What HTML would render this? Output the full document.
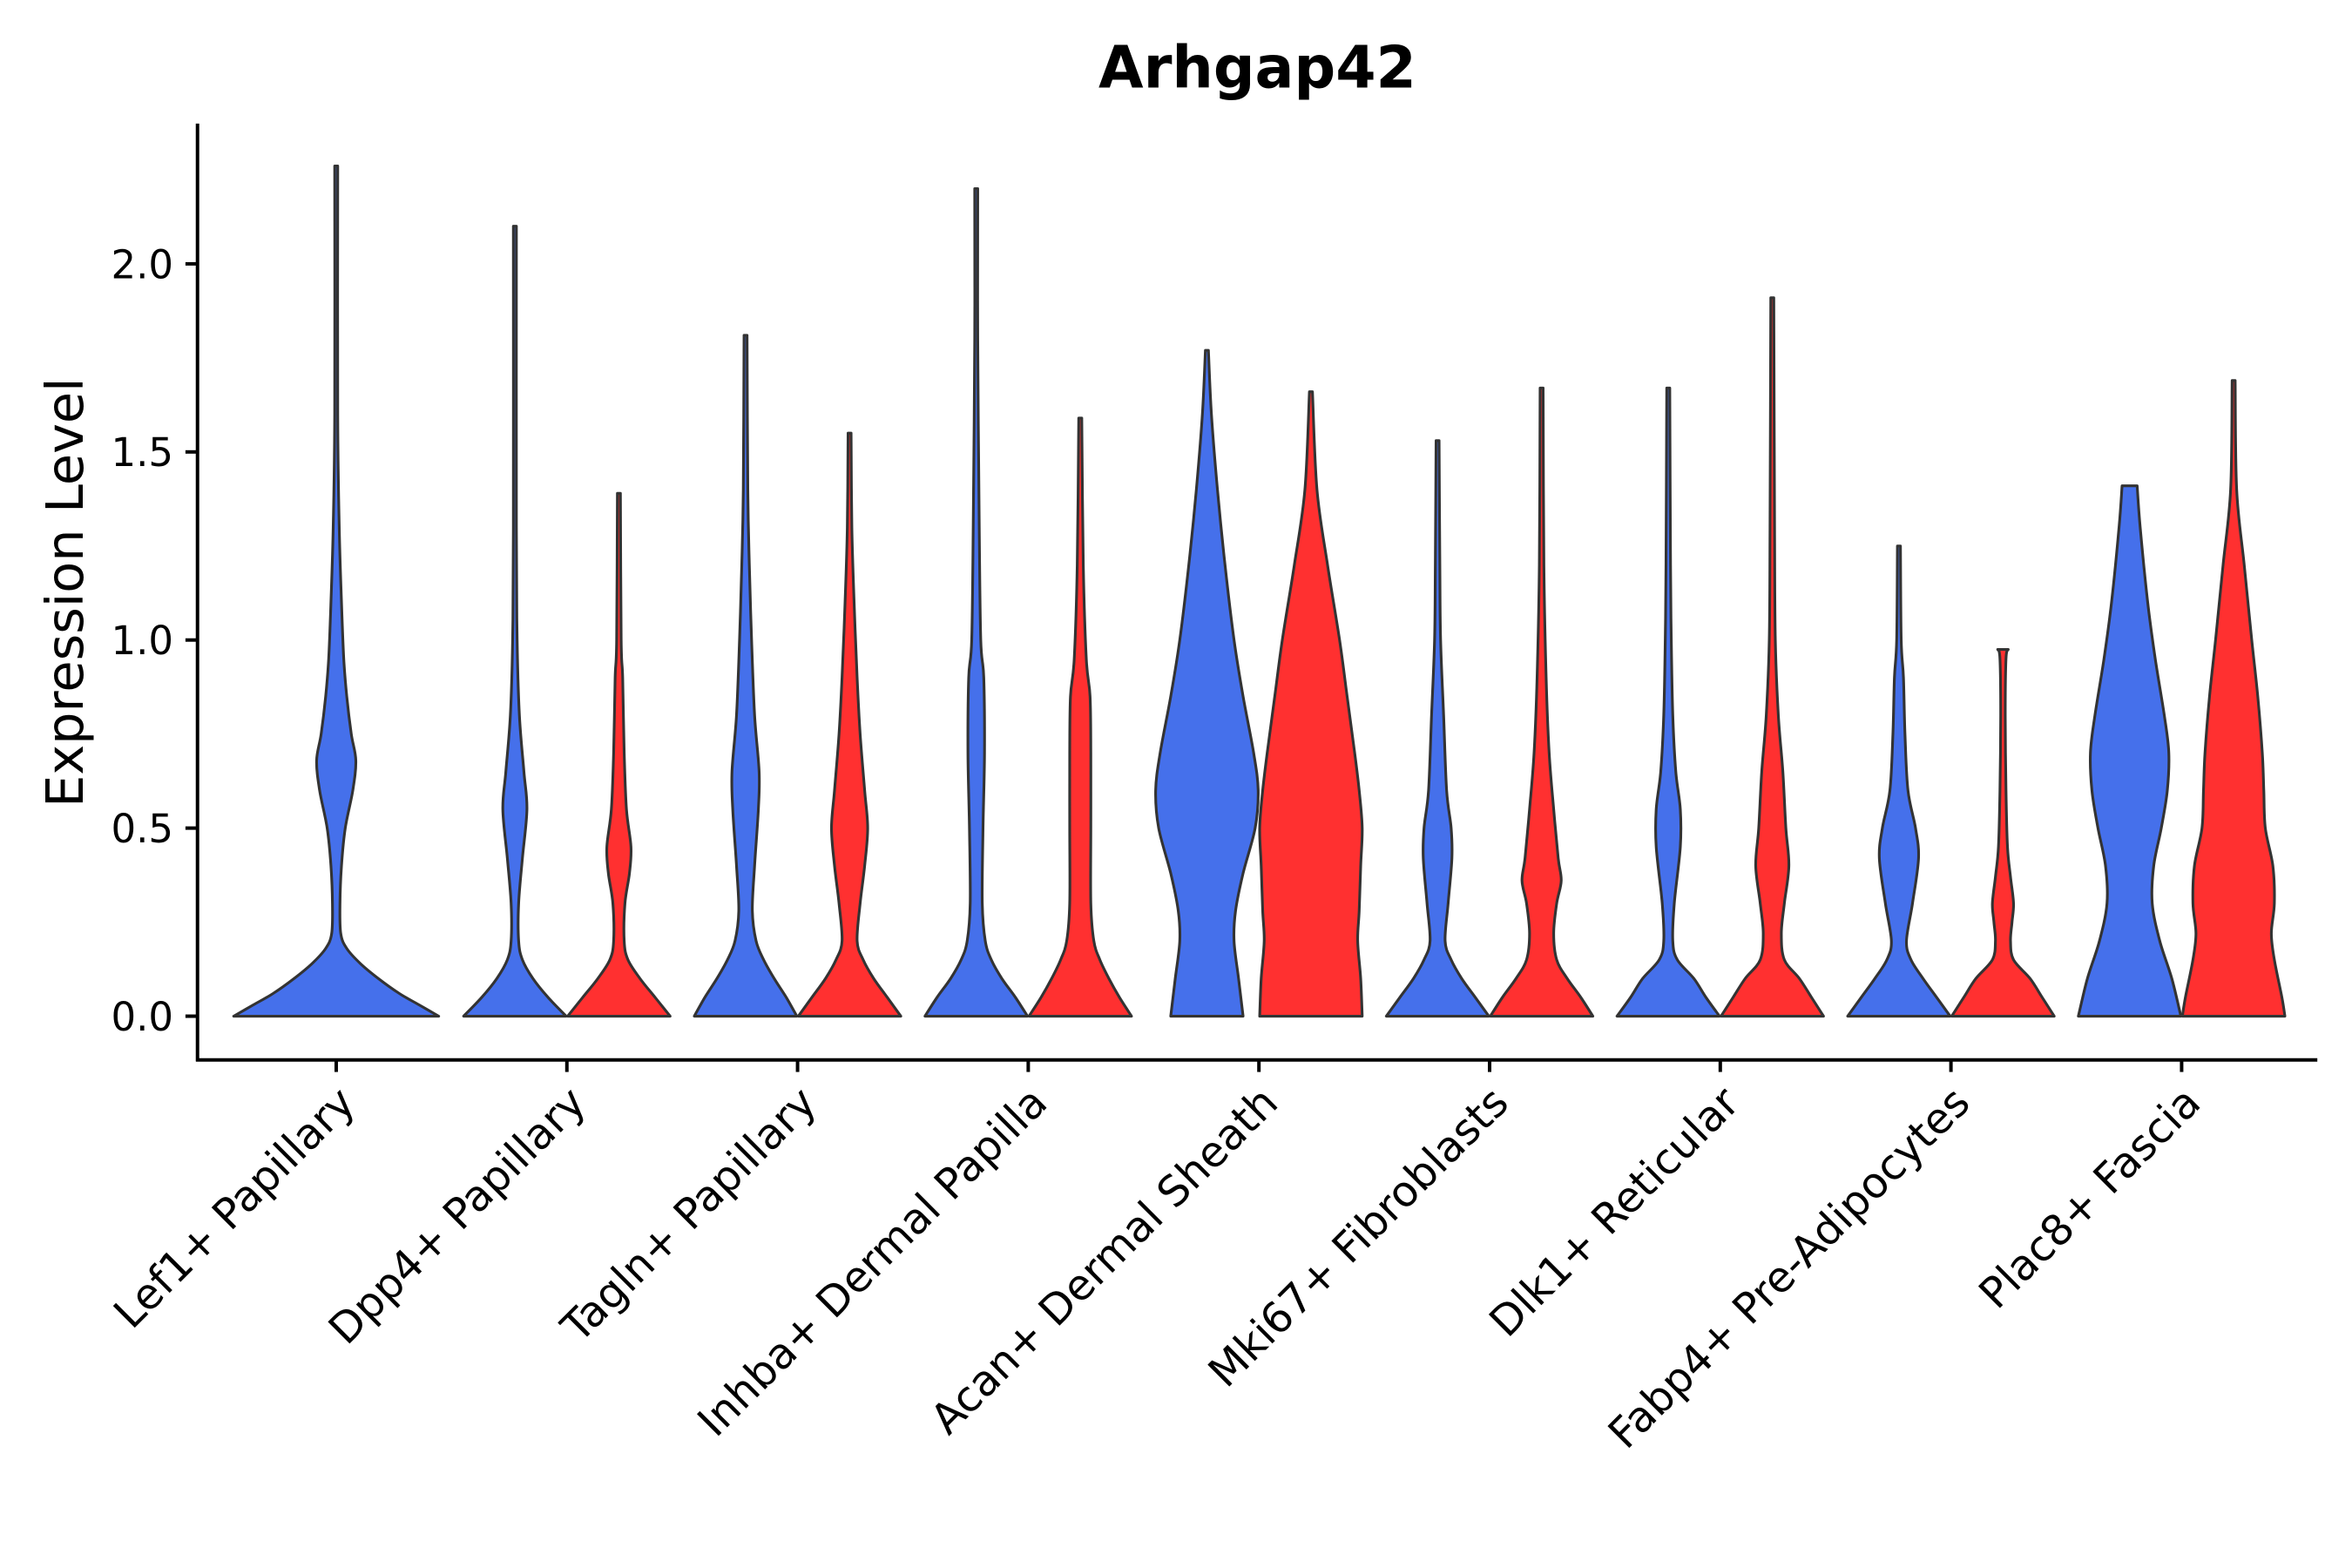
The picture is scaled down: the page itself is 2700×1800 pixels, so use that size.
<!DOCTYPE html>
<html><head><meta charset="utf-8"><style>
html,body{margin:0;padding:0;background:#fff;}
svg{display:block;}
text{font-family:"DejaVu Sans","Liberation Sans",sans-serif;fill:#000;}
</style></head><body>
<svg id="s" width="2700" height="1800" viewBox="0 0 1560 1040" xmlns="http://www.w3.org/2000/svg">
<rect width="1560" height="1040" fill="#fff"/>
<text x="834" y="58" font-size="38.5" font-weight="bold" text-anchor="middle">Arhgap42</text>
<text transform="translate(55,393) rotate(-90)" font-size="34" text-anchor="middle">Expression Level</text>
<g id="v"></g>
<g stroke="#000" stroke-width="2.3" fill="none">
<line x1="131" y1="82" x2="131" y2="704"/>
<line x1="130" y1="703" x2="1537" y2="703"/>
</g>
<g id="ax"></g>
</svg>
<script>
var NS="http://www.w3.org/2000/svg";
var Y0=674,K=249.5;
function y(v){return Y0-v*K;}
var ax=document.getElementById("ax"),vg=document.getElementById("v");
function el(t,a,p,txt){var e=document.createElementNS(NS,t);for(var k in a)e.setAttribute(k,a[k]);if(txt)e.textContent=txt;p.appendChild(e);return e;}
[0,0.5,1,1.5,2].forEach(function(v){
 el("line",{x1:123,x2:131,y1:y(v),y2:y(v),stroke:"#000","stroke-width":2.3},ax);
 el("text",{x:115,y:y(v)+9.5,"font-size":26,"text-anchor":"end"},ax,v.toFixed(1));
});
var names=["Lef1+ Papillary","Dpp4+ Papillary","Tagln+ Papillary","Inhba+ Dermal Papilla","Acan+ Dermal Sheath","Mki67+ Fibroblasts","Dlk1+ Reticular","Fabp4+ Pre-Adipocytes","Plac8+ Fascia"];
names.forEach(function(n,i){
 var x=223+153*i;
 el("line",{x1:x,x2:x,y1:703,y2:711,stroke:"#000","stroke-width":2.3},ax);
 el("text",{transform:"translate("+(x+14)+",733) rotate(-45)","font-size":28,"text-anchor":"end"},ax,n);
});
var B="#4570EB",R="#FF3030";
var V=[
[223,B,[[0,68],[0.03,55],[0.06,42],[0.1,28],[0.14,16],[0.18,7],[0.22,3],[0.3,2.5],[0.4,3.5],[0.5,6],[0.6,11],[0.68,13],[0.75,10],[0.85,7],[0.95,5],[1.1,3.5],[1.3,2],[1.6,1],[2.26,1]]],
[341.5,B,[[0,34],[0.05,22],[0.1,12],[0.15,5],[0.2,2.5],[0.3,2.5],[0.42,5],[0.55,8],[0.65,6],[0.8,3],[1.0,1.5],[1.3,1],[2.1,1]]],
[410.5,R,[[0,34],[0.05,24],[0.1,14],[0.15,6],[0.2,3.5],[0.3,4],[0.38,7],[0.45,8],[0.55,5],[0.7,3.5],[0.9,2.5],[1.0,1.5],[1.39,1]]],
[494.5,B,[[0,34],[0.05,27],[0.1,19],[0.15,12],[0.2,7],[0.28,4.5],[0.4,6],[0.55,8.5],[0.65,9],[0.8,6],[1.0,4],[1.2,2.5],[1.4,1.5],[1.81,1]]],
[563.5,R,[[0,34],[0.05,25],[0.1,16],[0.15,9],[0.2,5],[0.3,7],[0.4,10],[0.5,12],[0.6,10],[0.75,7],[0.9,5],[1.1,3],[1.3,1.5],[1.55,1]]],
[647.5,B,[[0,34],[0.05,26],[0.1,17],[0.15,10],[0.2,6],[0.3,4],[0.5,4.5],[0.7,5.5],[0.9,5],[1.0,3],[1.3,2],[1.8,1],[2.2,1]]],
[716.5,R,[[0,34],[0.05,26],[0.1,19],[0.15,13],[0.2,9],[0.3,7],[0.5,7],[0.7,7],[0.85,6.5],[0.95,4],[1.2,2],[1.59,1]]],
[800.5,B,[[0,24],[0.1,21],[0.2,18],[0.28,19],[0.38,24],[0.5,32],[0.6,34],[0.7,31],[0.85,24],[1.0,18],[1.2,12],[1.4,7],[1.6,3],[1.77,1]]],
[869.5,R,[[0,34],[0.1,33],[0.2,31],[0.28,32],[0.4,33],[0.5,34],[0.6,32],[0.7,29],[0.85,24],[1.0,19],[1.2,11],[1.4,4],[1.66,1]]],
[953.5,B,[[0,34],[0.05,25],[0.1,16],[0.15,9],[0.2,5],[0.3,7],[0.42,9.5],[0.5,9],[0.6,6],[0.8,4],[1.0,2],[1.2,1.5],[1.53,1]]],
[1022.5,R,[[0,34],[0.05,26],[0.1,17],[0.15,10],[0.22,8],[0.3,10],[0.36,13],[0.42,11],[0.55,8],[0.7,5],[0.9,3],[1.2,1.5],[1.67,1]]],
[1106.5,B,[[0,34],[0.05,25],[0.1,17],[0.15,6],[0.2,3],[0.3,4],[0.45,8],[0.55,8],[0.65,5],[0.8,3],[1.0,2],[1.2,1.5],[1.67,1]]],
[1175.5,R,[[0,34],[0.05,26],[0.1,18],[0.15,8],[0.22,6],[0.3,8],[0.4,11],[0.5,9],[0.65,7],[0.8,4],[1.0,2],[1.3,1.5],[1.91,1]]],
[1259.5,B,[[0,34],[0.05,25],[0.1,16],[0.15,8],[0.2,5],[0.3,9],[0.42,13],[0.5,11],[0.6,6],[0.75,4],[0.9,3],[1.0,1.5],[1.25,1]]],
[1328.5,R,[[0,34],[0.05,26],[0.1,18],[0.15,7],[0.2,5],[0.25,6],[0.3,7],[0.37,5],[0.45,3],[0.6,2],[0.8,1.5],[0.95,2],[0.975,3.5]]],
[1412.5,B,[[0,34],[0.1,28],[0.2,20],[0.3,15],[0.4,16],[0.5,21],[0.6,25],[0.7,26],[0.8,23],[0.95,17],[1.1,12],[1.3,7],[1.41,5]]],
[1481.5,R,[[0,34],[0.05,32],[0.15,27],[0.22,25],[0.3,27],[0.4,26],[0.5,21],[0.6,20],[0.7,19],[0.85,16],[1.0,12],[1.2,7],[1.4,2],[1.69,1]]]
];
function smooth(pts){
 var d="";
 for(var i=0;i<pts.length-1;i++){
  var p0=pts[Math.max(i-1,0)],p1=pts[i],p2=pts[i+1],p3=pts[Math.min(i+2,pts.length-1)];
  var c1=[p1[0]+(p2[0]-p0[0])/6,p1[1]+(p2[1]-p0[1])/6],c2=[p2[0]-(p3[0]-p1[0])/6,p2[1]-(p3[1]-p1[1])/6];
  d+=" C"+c1[0].toFixed(2)+","+c1[1].toFixed(2)+" "+c2[0].toFixed(2)+","+c2[1].toFixed(2)+" "+p2[0].toFixed(2)+","+p2[1].toFixed(2);
 }
 return d;
}
V.forEach(function(v){
 var cx=v[0],pr=v[2];
 var right=pr.map(function(p){return [cx+p[1],y(p[0])];});
 var left=pr.slice().reverse().map(function(p){return [cx-p[1],y(p[0])];});
 var d="M"+cx+","+Y0+" L"+right[0][0]+","+right[0][1]+smooth(right)+" L"+left[0][0]+","+left[0][1]+smooth(left)+" Z";
 el("path",{d:d,fill:v[1],stroke:"#333","stroke-width":1.8,"stroke-linejoin":"round"},vg);
});
</script>
</body></html>
